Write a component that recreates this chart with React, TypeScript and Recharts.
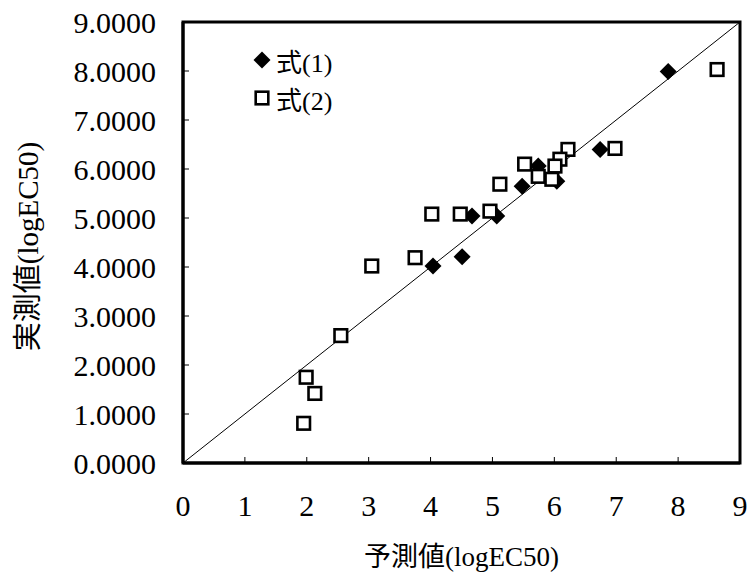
import React from "react";
import {
  ScatterChart,
  Scatter,
  XAxis,
  YAxis,
  ReferenceLine,
  ReferenceArea,
  Legend,
} from "recharts";

// 式(1) predicted vs measured
const eq1Pred = [7.84, 6.74, 5.74, 6.04, 5.48, 5.07, 4.67, 4.51, 4.04];
const eq1Meas = [7.99, 6.40, 6.06, 5.75, 5.65, 5.04, 5.04, 4.21, 4.02];

// 式(2) predicted vs measured
const eq2Pred = [
  8.63, 6.98, 6.22, 6.09, 6.01, 5.52, 5.74, 5.96, 5.12, 4.96, 4.48, 4.02, 3.75,
  3.05, 2.55, 1.99, 2.13, 1.95,
];
const eq2Meas = [
  8.03, 6.42, 6.40, 6.20, 6.06, 6.10, 5.85, 5.79, 5.69, 5.14, 5.08, 5.08, 4.19,
  4.02, 2.60, 1.75, 1.42, 0.81,
];

const xTicks = [0, 1, 2, 3, 4, 5, 6, 7, 8, 9];
const yTicks = [0, 1, 2, 3, 4, 5, 6, 7, 8, 9];

const eq1Data = eq1Pred.map((x, i) => ({ x, y: eq1Meas[i] }));
const eq2Data = eq2Pred.map((x, i) => ({ x, y: eq2Meas[i] }));

const serif = "'Liberation Serif', 'Noto Sans CJK JP', serif";

const Diamond = (props) => {
  const { cx, cy } = props;
  const r = 8.5;
  return (
    <polygon
      points={`${cx},${cy - r} ${cx + r},${cy} ${cx},${cy + r} ${cx - r},${cy}`}
      fill="#000"
    />
  );
};

const Square = (props) => {
  const { cx, cy } = props;
  const h = 6.3;
  return (
    <rect
      x={cx - h}
      y={cy - h}
      width={h * 2}
      height={h * 2}
      fill="#fff"
      stroke="#000"
      strokeWidth={2.6}
    />
  );
};

const renderLegend = (props) => {
  const { payload } = props;
  return (
    <div style={{ fontFamily: serif, fontSize: 26, color: "#000" }}>
      {payload.map((entry, i) => (
        <div
          key={i}
          style={{ display: "flex", alignItems: "center", height: 38 }}
        >
          <svg width={22} height={22} style={{ marginRight: 3 }}>
            {i === 0 ? (
              <Diamond cx={11} cy={11} />
            ) : (
              <Square cx={11} cy={11} />
            )}
          </svg>
          <span>{entry.value}</span>
        </div>
      ))}
    </div>
  );
};

export default function App() {
  return (
    <div style={{ position: "absolute", left: 0, top: 0, background: "#fff" }}>
      <ScatterChart
        width={754}
        height={580}
        margin={{ top: 22, right: 14, bottom: 0, left: 0 }}
      >
        <XAxis
          type="number"
          dataKey="x"
          domain={[0, 9]}
          ticks={xTicks}
          interval={0}
          height={117}
          tickSize={-6}
          tickMargin={38}
          axisLine={{ stroke: "#000", strokeWidth: 3 }}
          tickLine={{ stroke: "#000", strokeWidth: 1 }}
          tick={{ fill: "#000", fontSize: 30, fontFamily: serif }}
          label={{
            value: "予測値(logEC50)",
            position: "insideBottom",
            offset: 14,
            fill: "#000",
            fontSize: 27,
            fontFamily: serif,
          }}
        />
        <YAxis
          type="number"
          dataKey="y"
          domain={[0, 9]}
          ticks={yTicks}
          interval={0}
          width={183}
          tickSize={-6}
          tickMargin={33}
          tickFormatter={(v) => v.toFixed(4)}
          axisLine={{ stroke: "#000", strokeWidth: 3 }}
          tickLine={{ stroke: "#000", strokeWidth: 1 }}
          tick={{ fill: "#000", fontSize: 30, fontFamily: serif }}
          label={{
            value: "実測値(logEC50)",
            angle: -90,
            position: "insideLeft",
            offset: 28,
            dy: 4,
            fill: "#000",
            fontSize: 29,
            fontFamily: serif,
            style: { textAnchor: "middle" },
          }}
        />
        <ReferenceArea
          x1={0}
          x2={9}
          y1={0}
          y2={9}
          fill="none"
          stroke="#000"
          strokeWidth={3}
        />
        <ReferenceLine
          segment={[
            { x: 0, y: 0 },
            { x: 9, y: 9 },
          ]}
          stroke="#000"
          strokeWidth={1}
        />
        <Legend
          layout="vertical"
          verticalAlign="middle"
          align="center"
          content={renderLegend}
          wrapperStyle={{ left: 251, top: 41, width: 120, height: 80 }}
        />
        <Scatter
          name="式(1)"
          data={eq1Data}
          shape={Diamond}
          isAnimationActive={false}
        />
        <Scatter
          name="式(2)"
          data={eq2Data}
          shape={Square}
          isAnimationActive={false}
        />
      </ScatterChart>
    </div>
  );
}
